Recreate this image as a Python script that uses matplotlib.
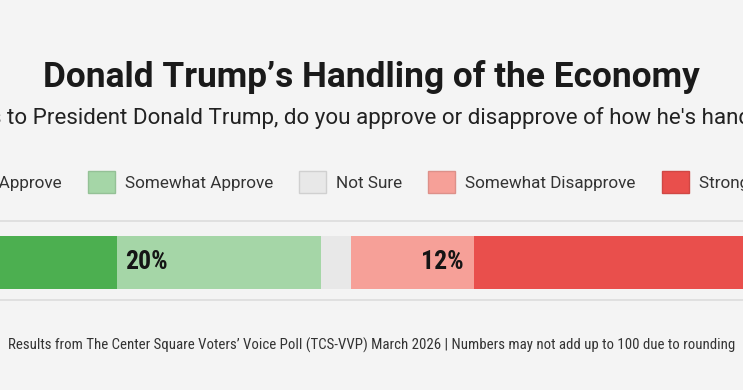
import matplotlib
matplotlib.use("Agg")
import matplotlib.pyplot as plt
from matplotlib.patches import Patch
from matplotlib import font_manager

categories = ["Strongly Approve", "Somewhat Approve", "Not Sure",
              "Somewhat Disapprove", "Strongly Disapprove"]
values = [25, 20, 3, 12, 40]
colors = ["#4caf50", "#a5d6a7", "#e8e8e8", "#f6a098", "#e94f4c"]
edge_colors = ["#449d48", "#94c196", "#d0d0d0", "#dd9089", "#d04744"]

title = "Donald Trump\u2019s Handling of the Economy"
subtitle = ("And when it comes to President Donald Trump, do you approve or "
            "disapprove of how he's handling the economy?")
footer = ("Results from The Center Square Voters\u2019 Voice Poll (TCS-VVP) "
          "March 2026 | Numbers may not add up to 100 due to rounding")

names = {f.name for f in font_manager.fontManager.ttflist}
narrow, stretch = "Roboto", "normal"
for fam in ("Roboto Condensed", "Liberation Sans Narrow"):
    if fam in names:
        narrow = fam
        break
else:
    if any("Condensed" in f.fname and f.name == "DejaVu Sans" for f in font_manager.fontManager.ttflist):
        narrow, stretch = "DejaVu Sans", "condensed"

W, H = 743, 390
BG = "#f4f4f4"


def main():
    fig = plt.figure(figsize=(W / 100, H / 100), dpi=100, facecolor=BG)

    fig.text(0.5, 1 - 77 / H, title, ha="center", va="center",
             family=["Roboto", "DejaVu Sans"], weight="bold", size=25.4, color="#1a1a1a")
    fig.text(0.5, 1 - 118 / H, subtitle, ha="center", va="center",
             family=["Roboto", "DejaVu Sans"], size=16.1, color="#222222")

    handles = [Patch(facecolor=c, edgecolor=e, linewidth=1) for c, e in zip(colors, edge_colors)]
    fig.legend(handles, categories, ncol=5, loc="center",
               bbox_to_anchor=(0.5017, 1 - 182 / H), frameon=False,
               prop={"family": "Roboto", "size": 12.3}, labelcolor="#333333",
               handlelength=1.58, handleheight=1.58, handletextpad=0.6,
               columnspacing=1.51)

    # grey rules above and below the bar
    for y in (221, 300):
        fig.add_artist(plt.Line2D([0, 1], [1 - y / H] * 2, transform=fig.transFigure,
                                  color="#dcdcdc", linewidth=1.2))

    # bar axes is wider than the figure, the picture is a crop of the full chart
    left_px, width_px = -138.5, 1020
    top_px, bot_px = 236, 288.5
    ax = fig.add_axes([left_px / W, 1 - bot_px / H, width_px / W, (bot_px - top_px) / H])
    ax.set_facecolor(BG)
    start = 0
    for i, (cat, v, c) in enumerate(zip(categories, values, colors)):
        ax.barh(0, v, left=start, color=c, height=1, edgecolor="none")
        if cat != "Not Sure":
            if i < 2:
                ax.text(start + 0.85, 0, f"{v}%", ha="left", va="center",
                        family=narrow, fontstretch=stretch, weight="bold",
                        size=18.5, color="#151515")
            else:
                ax.text(start + v - 0.95, 0, f"{v}%", ha="right", va="center",
                        family=narrow, fontstretch=stretch, weight="bold",
                        size=18.5, color="#151515")
        start += v
    ax.set_xlim(0, 100)
    ax.set_ylim(-0.5, 0.5)
    ax.axis("off")

    foot = fig.text(0.5, 1 - 345 / H, footer, ha="center", va="center",
                    family=narrow, fontstretch=stretch, size=10.5, color="#333333")
    # fit the footer to the width it has in the source (about 731 px)
    r = fig.canvas.get_renderer()
    w = foot.get_window_extent(r).width
    foot.set_fontsize(10.5 * 731 / w)

    fig.savefig("out.png", dpi=100, facecolor=BG)


if __name__ == "__main__":
    main()
